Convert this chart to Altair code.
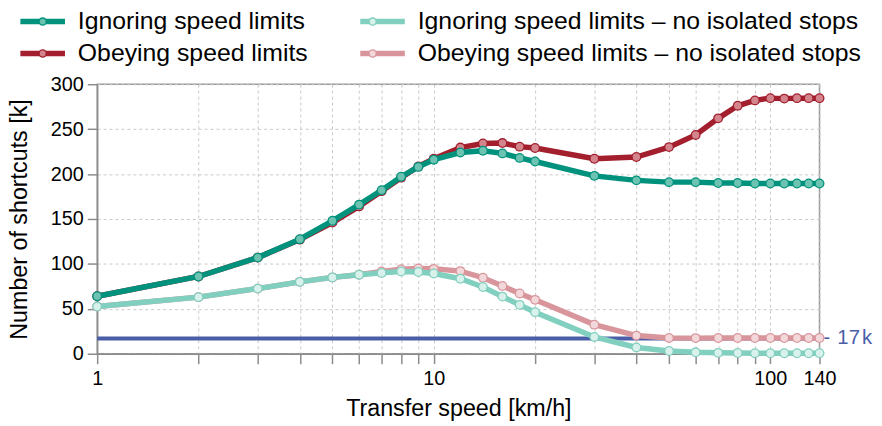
import altair as alt
import pandas as pd

speeds = [1, 2, 3, 4, 5, 6, 7, 8, 9, 10, 12, 14, 16, 18, 20, 30, 40, 50, 60, 70, 80, 90, 100, 110, 120, 130, 140]

ignoring = [64, 86, 107, 127.5, 148, 166, 182, 197, 208, 216, 224, 226, 223, 218, 214, 198,
            193, 191, 191, 190, 190, 189.5, 189.5, 189.5, 189.5, 189.5, 189.5]
obeying = [64, 86, 107, 127, 146, 164, 181, 196, 208.5, 217, 229.5, 234, 234.5, 230.5, 229, 217,
           219, 230, 243.5, 262, 276, 282, 284.5, 284, 284.5, 284.5, 284.5]
ignoring_noiso = [52.5, 63, 72.5, 80, 85, 88, 90, 91.5, 91, 89.3, 83.5, 74.3, 63.6, 54.4, 46.3, 18.7,
                  7, 3, 1.6, 1, 0.8, 0.6, 0.5, 0.5, 0.5, 0.5, 0.5]
obeying_noiso = [52.5, 63, 72.5, 80, 85, 88, 91.5, 94, 95, 94.5, 92, 84.6, 75.4, 67, 60, 32.4,
                 20.2, 17.6, 17.4, 17.5, 17.5, 17.5, 17.5, 17.5, 17.5, 17.5, 17.5]

series_names = [
    "Ignoring speed limits",
    "Ignoring speed limits – no isolated stops",
    "Obeying speed limits",
    "Obeying speed limits – no isolated stops",
]
line_colors = ["#00927d", "#80cfbf", "#a31f2e", "#d8969c"]
fill_colors = ["#6cc3b1", "#d9f1eb", "#d3848c", "#f3d8db"]

threshold = [17]
threshold_dash = ["-"]
threshold_number = ["17"]
threshold_unit = ["k"]

series_values = {
    series_names[0]: ignoring,
    series_names[1]: ignoring_noiso,
    series_names[2]: obeying,
    series_names[3]: obeying_noiso,
}

rows = []
for name, vals in series_values.items():
    for s, v in zip(speeds, vals):
        rows.append({"speed": s, "value": v, "series": name, "series2": name, "series3": name})
df = pd.DataFrame(rows)

FONT = "Liberation Sans"

x_ticks = [1, 2, 3, 4, 5, 6, 7, 8, 9, 10, 20, 30, 40, 50, 60, 70, 80, 90, 100, 140]

x_enc = alt.X(
    "speed:Q",
    scale=alt.Scale(type="log", domain=[1, 140], nice=False),
    axis=alt.Axis(
        values=x_ticks,
        labelExpr="(datum.value == 1 || datum.value == 10 || datum.value == 100 || datum.value == 140) ? format(datum.value, 'd') : ''",
        title="Transfer speed [km/h]",
        labelOverlap=False,
        labelFlush=False,
        tickSize=10,
        labelPadding=5,
        titlePadding=8,
    ),
)
y_enc = alt.Y(
    "value:Q",
    scale=alt.Scale(domain=[0, 300], nice=False),
    axis=alt.Axis(
        values=[0, 50, 100, 150, 200, 250, 300],
        title="Number of shortcuts [k]",
        labelFlush=False,
        tickSize=10,
        labelPadding=4,
        titlePadding=19,
    ),
)

stroke_scale = alt.Scale(domain=series_names, range=line_colors)
fill_scale = alt.Scale(range=line_colors)
color_scale = alt.Scale(range=fill_colors)

common = dict(
    title=None,
    orient="none",
    legendX=-78.5,
    legendY=-76,
    columns=2,
    direction="horizontal",
    labelFontSize=25,
    labelFont=FONT,
    labelColor="black",
    labelOffset=23,
    labelLimit=1000,
    rowPadding=6.5,
    columnPadding=41,
    padding=0,
    symbolOpacity=1,
    symbolOffset=11,
)

legend_a = alt.Legend(symbolType="M-2.5,0H2.5", symbolSize=324, symbolStrokeWidth=5.5,
                      zindex=1, **common)
legend_b = alt.Legend(symbolType="circle", symbolSize=72, symbolStrokeWidth=0,
                      labelOpacity=0, zindex=2, **common)
legend_c = alt.Legend(symbolType="circle", symbolSize=34, symbolStrokeWidth=0,
                      labelOpacity=0, zindex=3, **common)

thr_df = pd.DataFrame({"x1": [1], "x2": [140], "y": threshold, "dash": threshold_dash,
                       "num": threshold_number, "unit": threshold_unit, "xt": [140]})

rule = alt.Chart(thr_df).mark_rule(color="#4a5ea8", strokeWidth=4).encode(
    x=alt.X("x1:Q"), x2="x2:Q", y=alt.Y("y:Q")
)
dash = alt.Chart(thr_df).mark_text(
    align="left", baseline="middle", dx=4, fontSize=20, font=FONT, color="#4a5ea8"
).encode(x=alt.X("xt:Q"), y=alt.Y("y:Q"), text="dash:N")
num = alt.Chart(thr_df).mark_text(
    align="left", baseline="middle", dx=18, fontSize=20.5, font=FONT, color="#4a5ea8"
).encode(x=alt.X("xt:Q"), y=alt.Y("y:Q"), text="num:N")
unit = alt.Chart(thr_df).mark_text(
    align="left", baseline="middle", dx=43, fontSize=20.5, font=FONT, color="#4a5ea8"
).encode(x=alt.X("xt:Q"), y=alt.Y("y:Q"), text="unit:N")

layers = [rule]
draw_order = [series_names[3], series_names[1], series_names[2], series_names[0]]
for name in draw_order:
    base = alt.Chart(df).transform_filter(alt.datum.series == name)
    ln = base.mark_line(strokeWidth=5.5).encode(
        x=x_enc, y=y_enc,
        stroke=alt.Stroke("series:N", scale=stroke_scale, legend=legend_a),
    )
    outer = base.mark_circle(size=100, opacity=1).encode(
        x=x_enc, y=y_enc,
        fill=alt.Fill("series2:N", scale=fill_scale, legend=legend_b),
    )
    inner = base.mark_circle(size=55, opacity=1).encode(
        x=x_enc, y=y_enc,
        color=alt.Color("series3:N", scale=color_scale, legend=legend_c),
    )
    layers += [ln, outer, inner]
layers += [dash, num, unit]

chart = alt.layer(*layers).properties(
    width=729,
    height=272,
    autosize=alt.AutoSizeParams(type="none"),
    padding={"left": 90, "top": 75, "right": 55, "bottom": 71},
).configure_view(
    stroke="#999999", strokeWidth=1.5
).configure_axis(
    labelFont=FONT,
    titleFont=FONT,
    labelFontSize=20,
    titleFontSize=23.5,
    titleFontWeight="normal",
    labelColor="black",
    titleColor="black",
    domainColor="#8c8c8c",
    domainWidth=1.5,
    tickColor="#8c8c8c",
    tickWidth=1.5,
    gridColor="#c8c8c8",
    gridDash=[3, 3],
    gridWidth=1,
)

chart.save("out.html", embed_options={"renderer": "svg", "actions": False})
